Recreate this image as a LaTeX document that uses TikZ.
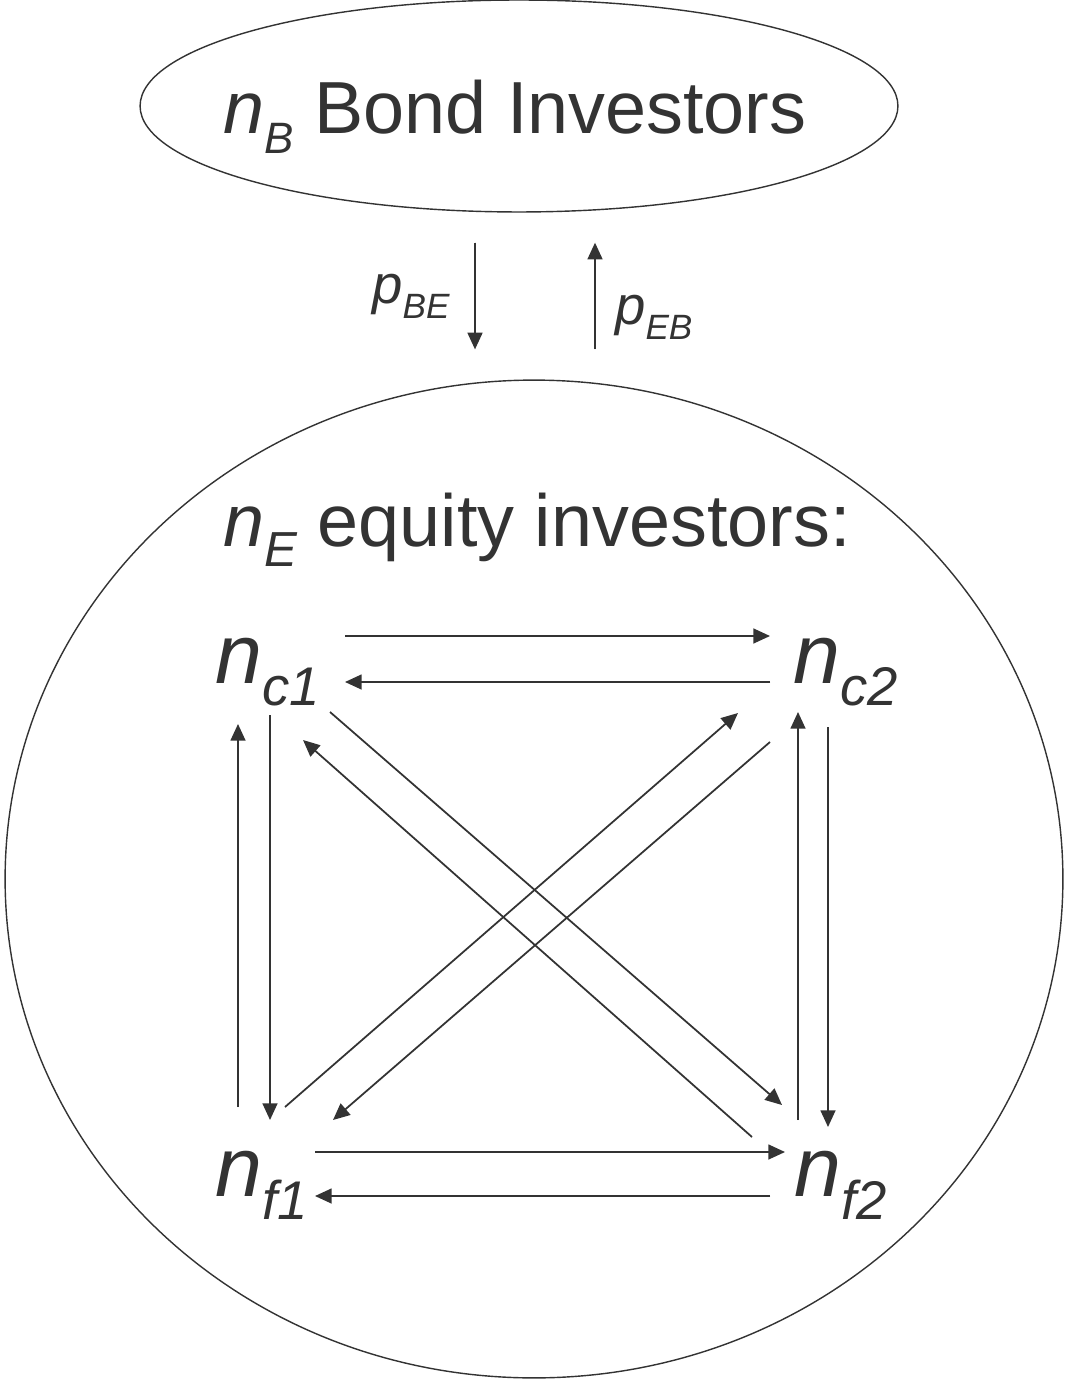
\documentclass[tikz,border=0pt]{standalone}
\usepackage{fontspec}
\setmainfont{Liberation Sans}
\usetikzlibrary{shapes.geometric,arrows.meta}
\definecolor{ink}{HTML}{333333}
\newcommand{\lowsub}[2]{\raisebox{-0.27em}{\fontsize{#1}{#1}\selectfont\itshape #2}}

\begin{document}
\begin{tikzpicture}[x=0.02cm,y=-0.02cm,>={Triangle[length=9.5pt,width=8.5pt]},
  group/.style={draw=ink,line width=0.8pt,ellipse,inner sep=0pt},
  flow/.style={->,draw=ink,fill=ink,line width=1pt},
  big/.style={text=ink,inner sep=0pt,font=\fontsize{42}{42}\selectfont},
  agent/.style={text=ink,inner sep=0pt,font=\fontsize{48}{48}\selectfont},
  rate/.style={text=ink,inner sep=0pt,font=\fontsize{31}{31}\selectfont}]
\useasboundingbox (0,0) rectangle (1065,1381);
\node[group,minimum width=15.16cm,minimum height=4.24cm] (bond) at (519,106) {};
\node[big] (bondtxt) at (515,117) {\textit{n}\lowsub{25}{B} Bond Investors};
\node[group,minimum width=21.16cm,minimum height=19.96cm] (equity) at (534,879) {};
\node[big] (equitytxt) at (537,530) {\textit{n}\lowsub{28}{E} equity investors:};
\node[agent] (c1) at (268,672) {\textit{n}\lowsub{31}{c1}};
\node[agent] (c2) at (846,672) {\textit{n}\lowsub{31}{c2}};
\node[agent] (f1) at (262,1185) {\textit{n}\lowsub{31}{f1}};
\node[agent] (f2) at (841,1185) {\textit{n}\lowsub{31}{f2}};
% bond <-> equity
\draw[flow] ([shift={(-44,30)}]bond.south) -- ([shift={(-59,-30)}]equity.north)
  node[rate,midway,left=14pt] (pbe) {\textit{p}\lowsub{20}{BE}};
\draw[flow] ([shift={(61,-30)}]equity.north) -- ([shift={(76,30)}]bond.south)
  node[rate,pos=0.3,right=11pt] (peb) {\textit{p}\lowsub{20}{EB}};
% horizontal
\draw[flow] ([shift={(77,-36)}]c1.center) -- ([shift={(-76,-36)}]c2.center);
\draw[flow] ([shift={(-76,10)}]c2.center) -- ([shift={(77,10)}]c1.center);
\draw[flow] ([shift={(53,-33)}]f1.center) -- ([shift={(-56,-33)}]f2.center);
\draw[flow] ([shift={(-71,11)}]f2.center) -- ([shift={(53,11)}]f1.center);
% vertical
\draw[flow] ([shift={(-24,-78)}]f1.center) -- ([shift={(-30,52)}]c1.center);
\draw[flow] ([shift={(2,43)}]c1.center) -- ([shift={(8,-65)}]f1.center);
\draw[flow] ([shift={(-43,-65)}]f2.center) -- ([shift={(-48,40)}]c2.center);
\draw[flow] ([shift={(-18,55)}]c2.center) -- ([shift={(-13,-58)}]f2.center);
% diagonal
\draw[flow] ([shift={(62,40)}]c1.center) -- ([shift={(-59,-80)}]f2.center);
\draw[flow] ([shift={(-89,-48)}]f2.center) -- ([shift={(35,68)}]c1.center);
\draw[flow] ([shift={(23,-78)}]f1.center) -- ([shift={(-108,41)}]c2.center);
\draw[flow] ([shift={(-76,70)}]c2.center) -- ([shift={(71,-65)}]f1.center);
\end{tikzpicture}
\end{document}
